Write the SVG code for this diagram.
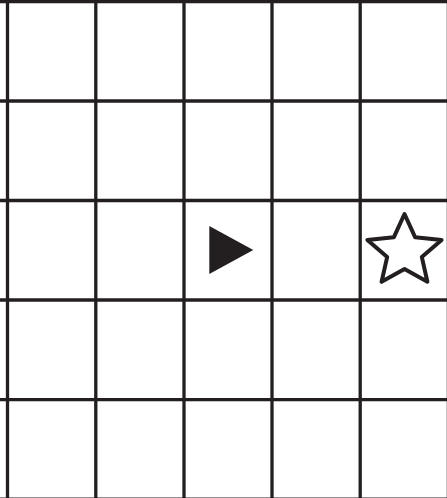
<svg xmlns="http://www.w3.org/2000/svg" width="447" height="498" viewBox="0 0 447 498">
  <style>
    .grid line { stroke: #231f20; stroke-width: 3.3; }
    .mark { fill: #231f20; }
    .star { fill: #ffffff; stroke: #231f20; stroke-width: 4; stroke-linejoin: round; }
  </style>
  <rect x="0" y="0" width="447" height="498" fill="#ffffff"/>
  <g id="grid" class="grid">
    <line x1="7.5" y1="0" x2="7.5" y2="498"/>
    <line x1="95.8" y1="0" x2="95.8" y2="498"/>
    <line x1="184" y1="0" x2="184" y2="498"/>
    <line x1="272" y1="0" x2="272" y2="498"/>
    <line x1="360.2" y1="0" x2="360.2" y2="498"/>
    <line x1="448.4" y1="0" x2="448.4" y2="498"/>
    <line x1="0" y1="1.5" x2="447" y2="1.5"/>
    <line x1="0" y1="101" x2="447" y2="101"/>
    <line x1="0" y1="200.5" x2="447" y2="200.5"/>
    <line x1="0" y1="300" x2="447" y2="300"/>
    <line x1="0" y1="399.6" x2="447" y2="399.6"/>
    <line x1="0" y1="499.2" x2="447" y2="499.2"/>
  </g>
  <g id="triangle">
    <polygon class="mark" points="209.3,226 209.3,274 253.3,250"/>
  </g>
  <g id="star">
    <polygon class="star" points="404.5,214 415.2,237.3 441.6,239.9 421.8,256.9 427.4,281.8 404.5,269 381.6,281.8 387.2,256.9 367.4,239.9 393.8,237.3"/>
  </g>
</svg>
